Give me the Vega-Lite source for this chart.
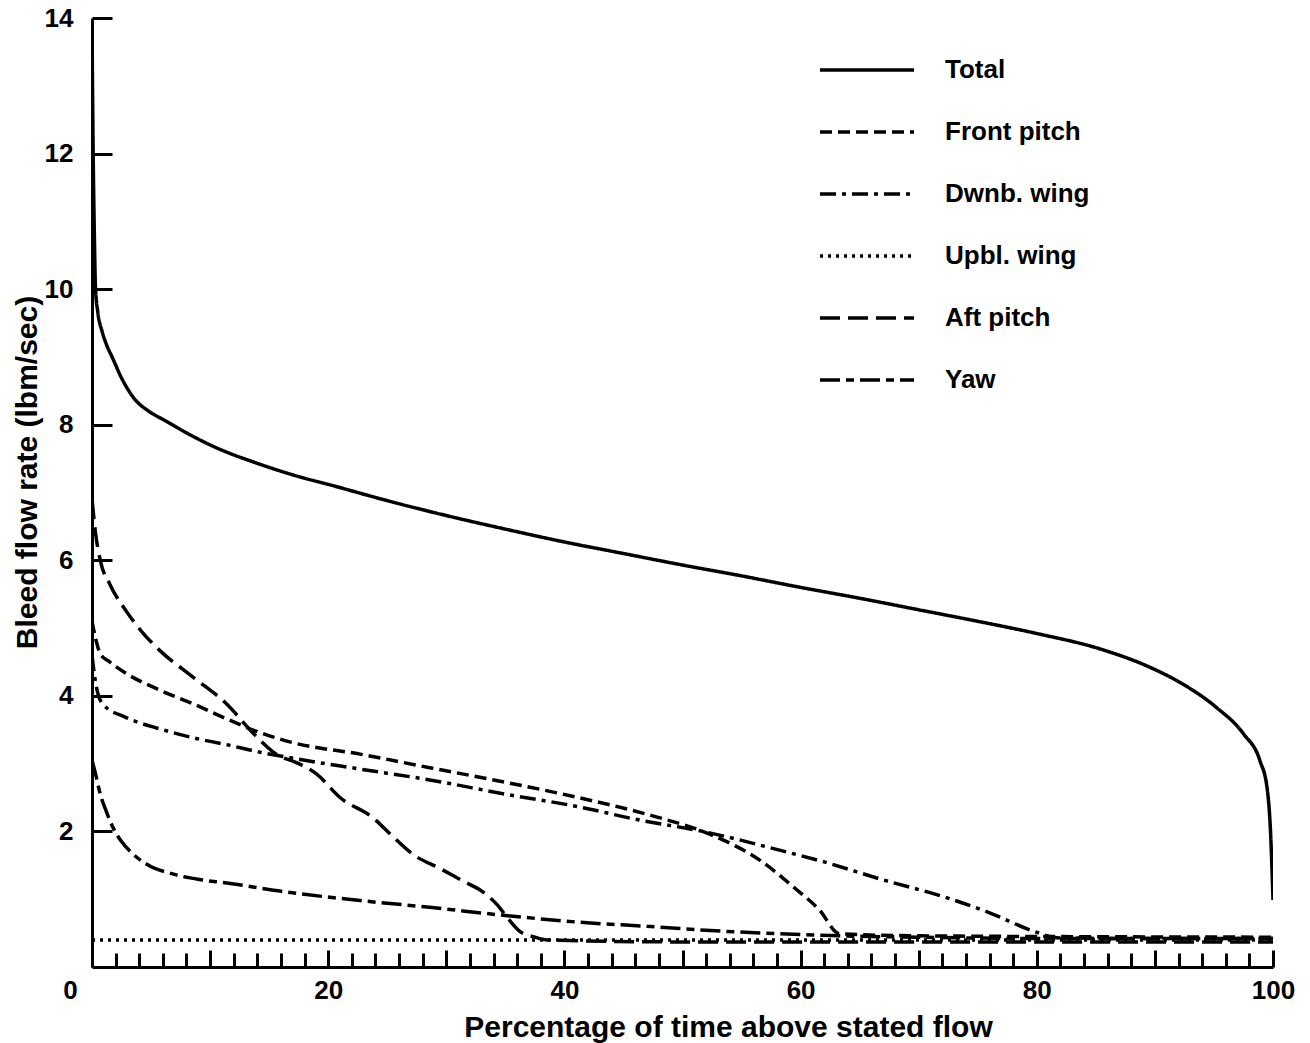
{
  "$schema": "https://vega.github.io/schema/vega-lite/v6.json",
  "width": 1181,
  "height": 949,
  "autosize": {"type": "none"},
  "padding": {"left": 92, "top": 18, "right": 37, "bottom": 76},
  "background": "white",
  "config": {
    "view": {"stroke": null},
    "font": "Liberation Sans",
    "axis": {"domainColor": "black", "domainWidth": 3, "tickColor": "black", "tickWidth": 3, "labelFont": "Liberation Sans", "labelFontWeight": "bold", "labelFontSize": 26, "labelColor": "black", "titleFont": "Liberation Sans", "titleFontWeight": "bold", "titleFontSize": 30, "titleColor": "black", "grid": false}
  },
  "data": {"values": [
    {"series": "Total", "x": 0, "y": 13.9},
    {"series": "Total", "x": 0.1, "y": 12.0},
    {"series": "Total", "x": 0.2, "y": 10.8},
    {"series": "Total", "x": 0.3, "y": 10.0},
    {"series": "Total", "x": 0.5, "y": 9.65},
    {"series": "Total", "x": 0.85, "y": 9.38},
    {"series": "Total", "x": 1.3, "y": 9.15},
    {"series": "Total", "x": 1.7, "y": 9.0},
    {"series": "Total", "x": 2.5, "y": 8.69},
    {"series": "Total", "x": 3.6, "y": 8.38},
    {"series": "Total", "x": 4.8, "y": 8.2},
    {"series": "Total", "x": 6.2, "y": 8.06},
    {"series": "Total", "x": 8, "y": 7.88},
    {"series": "Total", "x": 10.4, "y": 7.67},
    {"series": "Total", "x": 14, "y": 7.43},
    {"series": "Total", "x": 17.6, "y": 7.23},
    {"series": "Total", "x": 20, "y": 7.12},
    {"series": "Total", "x": 25, "y": 6.88},
    {"series": "Total", "x": 30, "y": 6.66},
    {"series": "Total", "x": 35, "y": 6.46},
    {"series": "Total", "x": 40, "y": 6.27},
    {"series": "Total", "x": 45, "y": 6.1},
    {"series": "Total", "x": 50, "y": 5.93},
    {"series": "Total", "x": 55, "y": 5.77},
    {"series": "Total", "x": 60, "y": 5.6},
    {"series": "Total", "x": 65, "y": 5.44},
    {"series": "Total", "x": 70, "y": 5.27},
    {"series": "Total", "x": 75, "y": 5.1},
    {"series": "Total", "x": 80, "y": 4.92},
    {"series": "Total", "x": 85.4, "y": 4.69},
    {"series": "Total", "x": 89.6, "y": 4.42},
    {"series": "Total", "x": 92.4, "y": 4.17},
    {"series": "Total", "x": 95.2, "y": 3.83},
    {"series": "Total", "x": 97.5, "y": 3.44},
    {"series": "Total", "x": 98.9, "y": 3.04},
    {"series": "Total", "x": 99.5, "y": 2.64},
    {"series": "Total", "x": 99.8, "y": 1.96},
    {"series": "Total", "x": 100, "y": 0.99},
    {"series": "Front pitch", "x": 0, "y": 5.1},
    {"series": "Front pitch", "x": 0.3, "y": 4.85},
    {"series": "Front pitch", "x": 0.7, "y": 4.62},
    {"series": "Front pitch", "x": 1.5, "y": 4.5},
    {"series": "Front pitch", "x": 2.9, "y": 4.33},
    {"series": "Front pitch", "x": 5.8, "y": 4.08},
    {"series": "Front pitch", "x": 8.6, "y": 3.88},
    {"series": "Front pitch", "x": 11.4, "y": 3.66},
    {"series": "Front pitch", "x": 14.2, "y": 3.46},
    {"series": "Front pitch", "x": 17, "y": 3.31},
    {"series": "Front pitch", "x": 22.7, "y": 3.14},
    {"series": "Front pitch", "x": 28.6, "y": 2.94},
    {"series": "Front pitch", "x": 34, "y": 2.76},
    {"series": "Front pitch", "x": 39.6, "y": 2.56},
    {"series": "Front pitch", "x": 45.3, "y": 2.33},
    {"series": "Front pitch", "x": 48.1, "y": 2.2},
    {"series": "Front pitch", "x": 52.3, "y": 1.96},
    {"series": "Front pitch", "x": 56.6, "y": 1.57},
    {"series": "Front pitch", "x": 59.4, "y": 1.18},
    {"series": "Front pitch", "x": 61.6, "y": 0.84},
    {"series": "Front pitch", "x": 63.3, "y": 0.49},
    {"series": "Front pitch", "x": 70, "y": 0.46},
    {"series": "Front pitch", "x": 100, "y": 0.44},
    {"series": "Dwnb. wing", "x": 0, "y": 4.6},
    {"series": "Dwnb. wing", "x": 0.3, "y": 4.2},
    {"series": "Dwnb. wing", "x": 0.9, "y": 3.88},
    {"series": "Dwnb. wing", "x": 2.9, "y": 3.68},
    {"series": "Dwnb. wing", "x": 5.8, "y": 3.51},
    {"series": "Dwnb. wing", "x": 8.6, "y": 3.38},
    {"series": "Dwnb. wing", "x": 11.4, "y": 3.28},
    {"series": "Dwnb. wing", "x": 14.2, "y": 3.17},
    {"series": "Dwnb. wing", "x": 17, "y": 3.08},
    {"series": "Dwnb. wing", "x": 22.7, "y": 2.92},
    {"series": "Dwnb. wing", "x": 28.6, "y": 2.76},
    {"series": "Dwnb. wing", "x": 35, "y": 2.55},
    {"series": "Dwnb. wing", "x": 41.3, "y": 2.36},
    {"series": "Dwnb. wing", "x": 46, "y": 2.18},
    {"series": "Dwnb. wing", "x": 52, "y": 1.99},
    {"series": "Dwnb. wing", "x": 58.3, "y": 1.72},
    {"series": "Dwnb. wing", "x": 62, "y": 1.55},
    {"series": "Dwnb. wing", "x": 66.7, "y": 1.3},
    {"series": "Dwnb. wing", "x": 72.4, "y": 1.02},
    {"series": "Dwnb. wing", "x": 76, "y": 0.8},
    {"series": "Dwnb. wing", "x": 79.7, "y": 0.53},
    {"series": "Dwnb. wing", "x": 81.7, "y": 0.43},
    {"series": "Dwnb. wing", "x": 90, "y": 0.42},
    {"series": "Dwnb. wing", "x": 100, "y": 0.42},
    {"series": "Upbl. wing", "x": 0, "y": 0.4},
    {"series": "Upbl. wing", "x": 50, "y": 0.4},
    {"series": "Upbl. wing", "x": 100, "y": 0.4},
    {"series": "Aft pitch", "x": 0, "y": 6.9},
    {"series": "Aft pitch", "x": 0.3, "y": 6.4},
    {"series": "Aft pitch", "x": 0.7, "y": 6.0},
    {"series": "Aft pitch", "x": 1.5, "y": 5.65},
    {"series": "Aft pitch", "x": 2.9, "y": 5.25},
    {"series": "Aft pitch", "x": 4.3, "y": 4.93},
    {"series": "Aft pitch", "x": 5.8, "y": 4.66},
    {"series": "Aft pitch", "x": 8.6, "y": 4.27},
    {"series": "Aft pitch", "x": 11.4, "y": 3.88},
    {"series": "Aft pitch", "x": 13.7, "y": 3.44},
    {"series": "Aft pitch", "x": 15.6, "y": 3.14},
    {"series": "Aft pitch", "x": 17.5, "y": 3.0},
    {"series": "Aft pitch", "x": 19, "y": 2.85},
    {"series": "Aft pitch", "x": 21, "y": 2.5},
    {"series": "Aft pitch", "x": 23.8, "y": 2.2},
    {"series": "Aft pitch", "x": 25.5, "y": 1.92},
    {"series": "Aft pitch", "x": 27.2, "y": 1.66},
    {"series": "Aft pitch", "x": 29.5, "y": 1.45},
    {"series": "Aft pitch", "x": 31.4, "y": 1.27},
    {"series": "Aft pitch", "x": 33, "y": 1.12},
    {"series": "Aft pitch", "x": 34.3, "y": 0.92},
    {"series": "Aft pitch", "x": 35.3, "y": 0.7},
    {"series": "Aft pitch", "x": 36.2, "y": 0.53},
    {"series": "Aft pitch", "x": 37.5, "y": 0.44},
    {"series": "Aft pitch", "x": 38.5, "y": 0.4},
    {"series": "Aft pitch", "x": 50, "y": 0.37},
    {"series": "Aft pitch", "x": 100, "y": 0.37},
    {"series": "Yaw", "x": 0, "y": 3.05},
    {"series": "Yaw", "x": 0.3, "y": 2.85},
    {"series": "Yaw", "x": 0.7, "y": 2.55},
    {"series": "Yaw", "x": 1.2, "y": 2.3},
    {"series": "Yaw", "x": 1.8, "y": 2.05},
    {"series": "Yaw", "x": 2.5, "y": 1.85},
    {"series": "Yaw", "x": 3.2, "y": 1.71},
    {"series": "Yaw", "x": 4.6, "y": 1.52},
    {"series": "Yaw", "x": 6.9, "y": 1.37},
    {"series": "Yaw", "x": 9.1, "y": 1.29},
    {"series": "Yaw", "x": 11.4, "y": 1.24},
    {"series": "Yaw", "x": 15.9, "y": 1.12},
    {"series": "Yaw", "x": 22.7, "y": 0.98},
    {"series": "Yaw", "x": 28.6, "y": 0.88},
    {"series": "Yaw", "x": 35, "y": 0.76},
    {"series": "Yaw", "x": 41.3, "y": 0.66},
    {"series": "Yaw", "x": 47, "y": 0.6},
    {"series": "Yaw", "x": 53.2, "y": 0.53},
    {"series": "Yaw", "x": 58.3, "y": 0.49},
    {"series": "Yaw", "x": 63.3, "y": 0.46},
    {"series": "Yaw", "x": 70, "y": 0.44},
    {"series": "Yaw", "x": 80, "y": 0.42},
    {"series": "Yaw", "x": 100, "y": 0.42}
  ]},
  "mark": {"type": "line", "color": "black", "strokeWidth": 3.5, "interpolate": "monotone", "clip": true},
  "encoding": {
    "x": {
      "field": "x", "type": "quantitative",
      "scale": {"domain": [0, 100], "nice": false, "zero": false},
      "axis": {
        "values": [0,2,4,6,8,10,12,14,16,18,20,22,24,26,28,30,32,34,36,38,40,42,44,46,48,50,52,54,56,58,60,62,64,66,68,70,72,74,76,78,80,82,84,86,88,90,92,94,96,98,100],
        "labelExpr": "datum.value % 20 == 0 ? datum.label : ''",
        "tickSize": {"condition": {"test": "datum.value % 10 == 0", "value": -17}, "value": -14},
        "labelPadding": 27,
        "labelOffset": {"condition": {"test": "datum.value == 0", "value": -22}, "value": 0},
        "labelFlush": false,
        "labelOverlap": false,
        "title": "Percentage of time above stated flow",
        "titleX": 636,
        "titleY": 69,
        "titleAlign": "center",
        "titleBaseline": "alphabetic"
      }
    },
    "y": {
      "field": "y", "type": "quantitative",
      "scale": {"domain": [0, 14], "nice": false},
      "axis": {
        "values": [2,4,6,8,10,12,14],
        "tickSize": -20,
        "labelPadding": 39,
        "labelFlush": false,
        "labelOverlap": false,
        "title": "Bleed flow rate (lbm/sec)",
        "titleX": -50,
        "titleY": 454,
        "titleAlign": "center"
      }
    },
    "strokeDash": {
      "field": "series", "type": "nominal",
      "scale": {
        "domain": ["Total", "Front pitch", "Dwnb. wing", "Upbl. wing", "Aft pitch", "Yaw"],
        "range": [[1,0],[12,6],[16,6,4,6],[3,5],[20,8],[20,6,8,6]]
      },
      "legend": {
        "orient": "none",
        "legendX": 726,
        "legendY": 3,
        "title": null,
        "symbolType": "stroke",
        "symbolSize": 8836,
        "symbolStrokeWidth": 3.5,
        "symbolStrokeColor": "black",
        "labelFont": "Liberation Sans",
        "labelFontWeight": "bold",
        "labelFontSize": 26,
        "labelColor": "black",
        "labelOffset": 29,
        "rowPadding": -1,
        "padding": 0
      }
    }
  }
}
